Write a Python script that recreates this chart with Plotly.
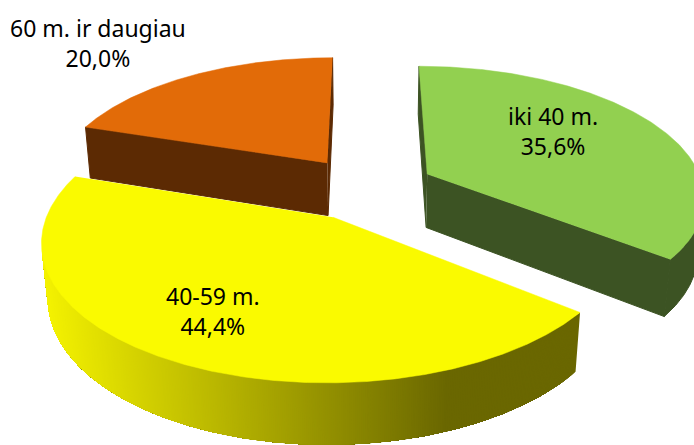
import numpy as np
import plotly.graph_objects as go

categories = ["iki 40 m.", "40-59 m.", "60 m. ir daugiau"]
values = [35.6, 44.4, 20.0]
top_colors = ["#92D050", "#FAFA00", "#E26B08"]
side_colors = ["#3C5323", "#6A6700", "#5C2A03"]
gradient_left = "#F4F200"
label_xy = [(553, 131), (213, 311), (98, 43)]
draw_order = [2, 0, 1]

EXPLODE, DEPTH = 0.248, 0.224
PHI, DIST, FOCAL, X0, Y0 = np.radians(27.8), 5.6, 1550, 366.5, 188.0
SN, CS = np.sin(PHI), np.cos(PHI)
CAM_Y = -DIST * CS

def project(x, y, z):
    yc = y * SN + z * CS
    zc = DIST + y * CS - z * SN
    return X0 + FOCAL * x / zc, Y0 - FOCAL * yc / zc

def hex_rgb(h):
    return np.array([int(h[i:i + 2], 16) for i in (1, 3, 5)], float)

def poly(fig, xs, ys, color, lw=0.5):
    fig.add_trace(go.Scatter(x=list(xs), y=list(ys), mode="lines", fill="toself",
                             fillcolor=color, line=dict(color=color, width=lw),
                             hoverinfo="skip", showlegend=False))

def faces_camera(nx, ny, px, py):
    return nx * (0 - px) + ny * (CAM_Y - py) > 0

fig = go.Figure()
cum = np.concatenate([[0], np.cumsum(values)]) / sum(values) * 2 * np.pi

for i in draw_order:
    a0, a1 = cum[i], cum[i + 1]
    mid = (a0 + a1) / 2
    ox, oy = EXPLODE * np.sin(mid), EXPLODE * np.cos(mid)
    t = np.linspace(a0, a1, 480)
    ax, ay = ox + np.sin(t), oy + np.cos(t)

    # radial walls, only when turned towards the camera
    for a, sign in ((a0, -1), (a1, 1)):
        nx, ny = sign * np.cos(a), -sign * np.sin(a)
        if faces_camera(nx, ny, ox, oy):
            ex, ey = ox + np.sin(a), oy + np.cos(a)
            sx, sy = project(np.array([ox, ex, ex, ox]), np.array([oy, ey, ey, oy]),
                             np.array([0, 0, -DEPTH, -DEPTH]))
            poly(fig, sx, sy, side_colors[i], 1)

    # outer wall: one polygon, or for yellow overlapping bands painted along the
    # arc (each band runs to the far end, so no seams show between colours)
    tx, ty = project(ax, ay, 0 * ax)
    bx, by = project(ax, ay, 0 * ax - DEPTH)
    vis = np.where(faces_camera(np.sin(t), np.cos(t), ax, ay))[0]
    if len(vis):
        lo, hi = vis[0], vis[-1]
        if i == 1:
            for k in range(lo, hi):
                f = np.clip((tx[k] - 45) / (450 - 45), 0, 1)
                rgb = hex_rgb(gradient_left) * (1 - f) + hex_rgb(side_colors[1]) * f
                col = "rgb(%d,%d,%d)" % tuple(rgb)
                poly(fig, np.r_[tx[k:hi + 1], bx[k:hi + 1][::-1]],
                     np.r_[ty[k:hi + 1], by[k:hi + 1][::-1]], col, 0)
        else:
            poly(fig, np.r_[tx[lo:hi + 1], bx[lo:hi + 1][::-1]],
                 np.r_[ty[lo:hi + 1], by[lo:hi + 1][::-1]], side_colors[i], 1)

    # top face
    cx, cy = project(np.array([ox]), np.array([oy]), np.array([0.0]))
    poly(fig, np.r_[cx, tx], np.r_[cy, ty], top_colors[i])

for name, v, (lx, ly) in zip(categories, values, label_xy):
    pct = f"{v:.1f}%".replace(".", ",")
    fig.add_annotation(x=lx, y=ly, text=f"{name}<br>{pct}",
                       showarrow=False, xanchor="center", yanchor="middle",
                       font=dict(family="Noto Sans", size=23, color="#000000"))

fig.update_xaxes(range=[0, 694], visible=False, fixedrange=True)
fig.update_yaxes(range=[445, 0], visible=False, fixedrange=True)
fig.update_layout(width=694, height=445, margin=dict(l=0, r=0, t=0, b=0),
                  paper_bgcolor="white", plot_bgcolor="white", showlegend=False)
fig.write_html("out.html", post_script="document.body.style.margin='0';document.body.style.overflow='hidden';",
               config={"displayModeBar": False})
